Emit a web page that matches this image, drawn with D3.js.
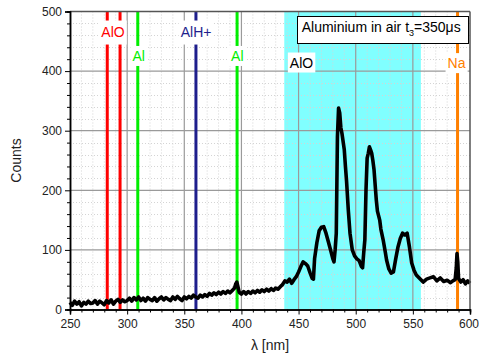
<!DOCTYPE html>
<html><head><meta charset="utf-8">
<script src="https://cdn.jsdelivr.net/npm/d3@7"></script>
<style>
body{margin:0;background:#fff;}
svg{display:block;font-family:"Liberation Sans",Arial,sans-serif;}
</style></head>
<body><svg id="c" width="479" height="355"></svg>
<script>
// ---- data ----
const wavelengths = [250,252,254,256,258,260,262,264,266,268,270,272,274,276,278,280,282,284,286,288,290,292,294,296,298,300,302,304,306,308,310,312,314,316,318,320,322,324,326,328,330,332,334,336,338,340,342,344,346,348,350,352,354,356,358,360,362,364,366,368,370,372,374,376,378,380,382,384,386,388,390,392,394,395,396,397,398,400,402,404,406,408,410,412,414,416,418,420,422,424,426,428,430,432,434,436,438,440,442,444,446,448,450,452,454,456,458,460,462,463,464,466,468,470,472,474,476,478,480,481,482,483,484,485,486,487,488,490,491,492,493.5,495,497,499,501,503,505,506,507,508,509,510,511,512,513,514,515,516,518,519,521,522,524,526,527,529,531,533,535,537,539,541,543,545,547,549,551,553,556,559,562,565,568,571,574,577,580,583,585,587,588,588.6,589.3,590,592,594,596,598,600];
const counts = [12,7,14,9,13,6,12,9,14,10,11,15,9,14,11,8,15,11,16,9,14,17,12,16,13,15,19,14,20,16,21,15,19,14,20,17,15,20,14,18,21,16,20,17,15,21,17,22,18,15,21,18,22,19,24,21,19,24,21,25,22,27,24,28,25,29,26,30,27,31,28,32,36,43,46,38,29,26,30,26,30,27,31,28,32,29,33,30,34,31,35,32,36,34,38,42,48,46,51,44,50,55,63,72,80,77,73,62,52,51,85,112,132,138,139,128,114,100,85,80,100,128,290,338,330,305,295,268,240,215,167,128,100,90,85,82,72,70,95,117,200,254,262,273,268,262,250,235,184,165,150,135,117,95,83,68,61,63,85,105,119,128,125,128,105,78,66,58,52,46,51,53,55,48,53,47,49,45,48,50,70,94,80,52,46,50,43,48,44];
const bandRange = [437.5, 557];
const lineNames = ["AlO","AlO","Al","AlH+","Al","Na"];
const lineNm = [282.6, 293.8, 309.3, 360.2, 396.2, 589.1];
const lineColors = ["#ff0000","#ff0000","#00ee00","#1e1e8c","#00ee00","#ff8000"];
const labelTexts = ["AlO","Al","AlH+","Al","AlO","Na"];
const labelNm = [287.6, 310.1, 360.3, 396.4, 452.6, 588.2];
const labelCounts = [458, 417, 458, 417, 406, 405];
const labelColors = ["#ff0000","#00ee00","#1e1e8c","#00ee00","#000000","#ff8000"];
const xTicks = [250,300,350,400,450,500,550,600];
const yTicks = [0,100,200,300,400,500];
const titleText = "Aluminium in air t";
const titleSub = "3";
const titleRest = "=350\u03bcs";

// ---- layout ----
const W = 479, H = 355;
const m = {l:70, r:9, t:11.5, b:45.5};
const svg = d3.select("#c");
const x = d3.scaleLinear().domain([250,600]).range([m.l, W-m.r]);
const y = d3.scaleLinear().domain([0,500]).range([H-m.b, m.t]);
const pw = W-m.r-m.l, ph = H-m.b-m.t;

// band
svg.append("rect").attr("x", x(bandRange[0])).attr("y", m.t)
  .attr("width", x(bandRange[1])-x(bandRange[0])).attr("height", ph)
  .attr("fill", "#80ffff");

// minor grid
const g = svg.append("g");
g.selectAll(".mx").data(d3.range(260,600,10).filter(v=>v%50)).join("line")
  .attr("x1", d=>x(d)).attr("x2", d=>x(d)).attr("y1", m.t).attr("y2", H-m.b)
  .attr("stroke","#d4d4d4").attr("stroke-width",1).attr("stroke-dasharray","1,2");
g.selectAll(".my").data(d3.range(20,500,20).filter(v=>v%100)).join("line")
  .attr("y1", d=>Math.round(y(d))+0.5).attr("y2", d=>Math.round(y(d))+0.5).attr("x1", m.l).attr("x2", W-m.r)
  .attr("stroke","#d4d4d4").attr("stroke-width",1).attr("stroke-dasharray","1,2");
// major grid
g.selectAll(".Mx").data(xTicks.slice(1,-1)).join("line")
  .attr("x1", d=>x(d)).attr("x2", d=>x(d)).attr("y1", m.t).attr("y2", H-m.b)
  .attr("stroke","#9a9a9a").attr("stroke-width",1.2);
g.selectAll(".My").data(yTicks.slice(1,-1)).join("line")
  .attr("y1", d=>y(d)).attr("y2", d=>y(d)).attr("x1", m.l).attr("x2", W-m.r)
  .attr("stroke","#9a9a9a").attr("stroke-width",1.2);

// emission lines
svg.append("g").selectAll("line").data(lineNm).join("line")
  .attr("x1", d=>x(d)).attr("x2", d=>x(d)).attr("y1", m.t).attr("y2", H-m.b)
  .attr("stroke", (d,i)=>lineColors[i]).attr("stroke-width", 3);

// spectrum
const pts = wavelengths.map((w,i)=>[w, counts[i]]);
svg.append("path").datum(pts)
  .attr("d", d3.line().x(d=>x(d[0])).y(d=>y(d[1])))
  .attr("fill","none").attr("stroke","#000").attr("stroke-width",3.6)
  .attr("stroke-linejoin","round");

// labels with white boxes
const lg = svg.append("g");
labelTexts.forEach((t,i)=>{
  const gg = lg.append("g");
  const r = gg.append("rect").attr("fill","#fff");
  const tx = gg.append("text").attr("x", x(labelNm[i])).attr("y", y(labelCounts[i]))
    .attr("text-anchor","middle").attr("font-size",14).attr("fill", labelColors[i]).text(t);
  const b = tx.node().getBBox();
  const top = i===0||i===2 ? 3 : 2, bot = i===0||i===2 ? 5 : 2;
  r.attr("x", b.x-2).attr("y", b.y-top).attr("width", b.width+4).attr("height", b.height+top+bot);
});

// legend box
const leg = svg.append("g");
const lr = leg.append("rect").attr("fill","#fff").attr("stroke","#000").attr("stroke-width",1);
const lt = leg.append("text").attr("font-size",14).attr("fill","#000").attr("y", 32);
lt.append("tspan").text(titleText);
lt.append("tspan").attr("font-size",9).attr("dy",4).text(titleSub);
lt.append("tspan").attr("dy",-4).text(titleRest);
const lb = lt.node().getBBox();
lt.attr("x", 460.7 - lb.width);
const lb2 = lt.node().getBBox();
lr.attr("x", Math.round(lb2.x - 5)+0.5).attr("y", 16.5).attr("width", Math.round(lb2.width + 12)).attr("height", 27);

// frame
svg.append("line").attr("x1", m.l).attr("x2", W-m.r).attr("y1", m.t).attr("y2", m.t).attr("stroke","#555").attr("stroke-width",1.5);
svg.append("line").attr("x1", W-m.r).attr("x2", W-m.r).attr("y1", m.t).attr("y2", H-m.b).attr("stroke","#555").attr("stroke-width",1.5);

// axes
const xa = svg.append("g").attr("transform", `translate(0,${H-m.b})`);
xa.call(d3.axisBottom(x).tickValues(d3.range(260,600,10).filter(v=>v%50)).tickSize(3).tickFormat(""));
xa.append("g").call(d3.axisBottom(x).tickValues(xTicks).tickSize(5).tickPadding(5).tickFormat(d3.format("d")));
const ya = svg.append("g").attr("transform", `translate(${m.l},0)`);
ya.call(d3.axisLeft(y).tickValues(d3.range(20,500,20).filter(v=>v%100)).tickSize(3).tickFormat(""));
ya.append("g").call(d3.axisLeft(y).tickValues(yTicks).tickSize(5).tickPadding(3).tickFormat(d3.format("d")));
svg.selectAll(".domain").attr("stroke","#000").attr("stroke-width",1.5);
svg.selectAll(".tick line").attr("stroke","#000");
svg.selectAll(".tick text").attr("font-size",12).attr("fill","#222").attr("font-family","Liberation Sans, Arial, sans-serif");
// keep the last x label inside the window
xa.selectAll(".tick text").filter(d=>d===600).attr("dx", -1.5);

// axis titles
svg.append("text").attr("x", (m.l+W-m.r)/2).attr("y", 350).attr("text-anchor","middle")
  .attr("font-size",14).attr("fill","#222").text("\u03bb [nm]");
svg.append("text").attr("transform", `translate(21,${m.t+ph/2}) rotate(-90)`).attr("text-anchor","middle")
  .attr("font-size",14).attr("fill","#222").text("Counts");
</script></body></html>
